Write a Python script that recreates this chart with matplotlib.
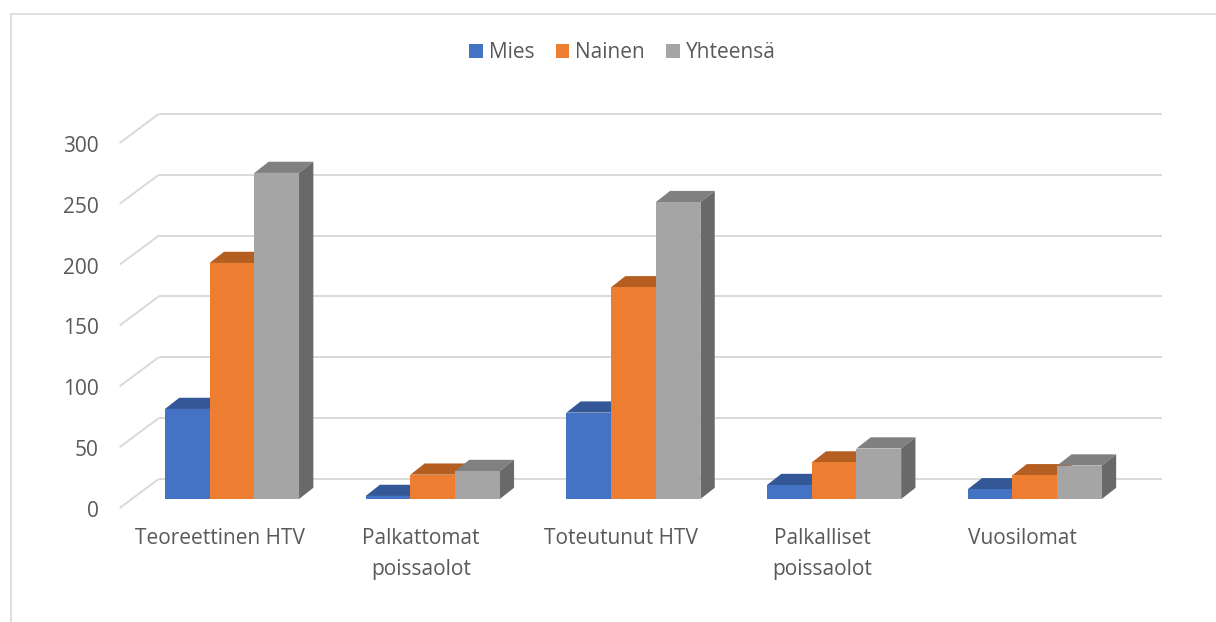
import matplotlib
matplotlib.use("Agg")
import matplotlib.pyplot as plt
from matplotlib.patches import Polygon
from matplotlib.lines import Line2D

# ---- data ----
categories = ["Teoreettinen HTV", "Palkattomat\npoissaolot", "Toteutunut HTV",
              "Palkalliset\npoissaolot", "Vuosilomat"]
series_names = ["Mies", "Nainen", "Yhteensä"]
mies = [74, 2.5, 71, 11.5, 8]
nainen = [194, 20, 174, 30, 19.5]
yhteensa = [268, 23, 244, 41.5, 27.5]
yticks = [0, 50, 100, 150, 200, 250, 300]

# ---- style ----
front_cols = ["#4472C4", "#ED7D31", "#A5A5A5"]
top_cols = ["#345897", "#B55E21", "#808080"]
side_cols = ["#284577", "#8E4A1A", "#696969"]
grid_col = "#D9D9D9"
text_col = "#595959"
FONT = "Open Sans"
FS = 15

W, H = 1216, 622
fig = plt.figure(figsize=(W / 100, H / 100), dpi=100)
ax = fig.add_axes([0, 0, 1, 1])
ax.set_axis_off()

# mapping: x pixel = 232 + i*200.7 ; y pixel = 499 - v*1.2167
sx, x0 = 200.7, 232.0
sy, y0 = 1.2167, 499.0
ax.set_xlim(-x0 / sx, (W - x0) / sx)
ax.set_ylim((y0 - H) / sy, y0 / sy)

bw = 44.7 / sx            # bar width
bdx, bdy = 14.3 / sx, 11.2 / sy   # bar depth offset
wdx, wdy = 27.0 / sx, 20.0 / sy   # back wall offset from bar plane
fdx, fdy = -12.0 / sx, -9.0 / sy  # front plane offset from bar plane
n = len(categories)
left_edge = -0.5
right_edge = n - 0.5

# gridlines (diagonal on side wall + horizontal on back wall)
for t in yticks:
    ax.plot([left_edge + fdx, left_edge + wdx], [t + fdy, t + wdy],
            color=grid_col, lw=1.4, zorder=1, solid_capstyle="butt")
    ax.plot([left_edge + wdx, right_edge + wdx], [t + wdy, t + wdy],
            color=grid_col, lw=1.4, zorder=1, solid_capstyle="butt")
    ax.text(left_edge + fdx - 21 / sx, t + fdy - 3.5 / sy, str(t), ha="right", va="center",
            fontsize=FS, color=text_col, family=FONT)

# bars
z = 2
all_series = [mies, nainen, yhteensa]
for i in range(n):
    for k, vals in enumerate(all_series):
        xl = i + (k - 1.5) * bw
        v = vals[i]
        ax.bar(xl, v, width=bw, align="edge", color=front_cols[k], zorder=z + 2,
               label=series_names[k] if i == 0 else None, linewidth=0)
        top = Polygon([[xl, v], [xl + bw, v], [xl + bw + bdx, v + bdy], [xl + bdx, v + bdy]],
                      closed=True, facecolor=top_cols[k], edgecolor="none", zorder=z)
        side = Polygon([[xl + bw, 0], [xl + bw + bdx, bdy], [xl + bw + bdx, v + bdy], [xl + bw, v]],
                       closed=True, facecolor=side_cols[k], edgecolor="none", zorder=z + 1)
        ax.add_patch(top)
        ax.add_patch(side)
        z += 3

# category labels
for i, c in enumerate(categories):
    ax.text(i + fdx, (y0 - 528) / sy, c, ha="center", va="top", fontsize=FS,
            color=text_col, family=FONT, linespacing=1.6, multialignment="center")

# legend
leg = ax.legend(loc="center", bbox_to_anchor=(0.512, 1 - 53 / H), ncol=3, frameon=False,
                handlelength=0.65, handleheight=0.65, handletextpad=0.3, columnspacing=1.0,
                prop={"family": FONT, "size": FS})
for t in leg.get_texts():
    t.set_color(text_col)

# chart border (cut off at right/bottom)
fig.add_artist(Line2D([10.5 / W, 10.5 / W], [0, 1 - 13.5 / H], transform=fig.transFigure,
                      color=grid_col, lw=1.2))
fig.add_artist(Line2D([10.5 / W, 1], [1 - 13.5 / H, 1 - 13.5 / H], transform=fig.transFigure,
                      color=grid_col, lw=1.2))

fig.savefig("out.png", dpi=100)
